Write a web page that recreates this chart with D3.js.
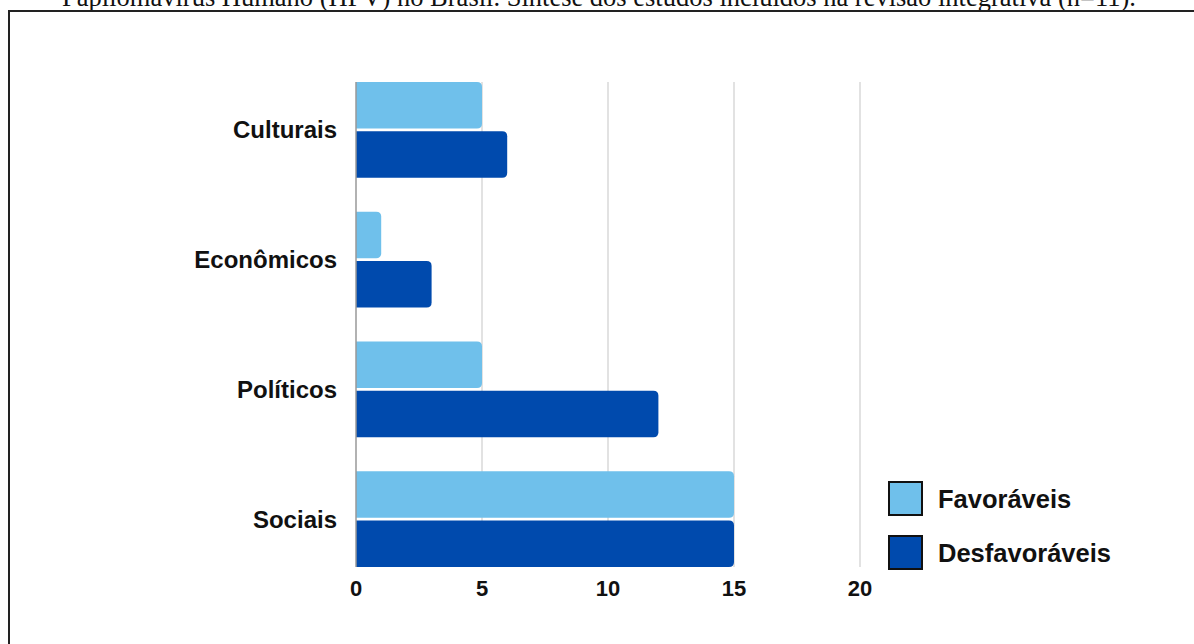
<!DOCTYPE html>
<html lang="pt">
<head>
<meta charset="UTF-8">
<script src="https://cdnjs.cloudflare.com/ajax/libs/d3/7.8.5/d3.min.js"></script>
<style>
  body { margin: 0; background: #fff; }
  svg { display: block; }
</style>
</head>
<body>
<script>
// dados
const categorias = ["Culturais", "Econômicos", "Políticos", "Sociais"];
const favoraveis = [5, 1, 5, 15];
const desfavoraveis = [6, 3, 12, 15];
const series = ["Favoráveis", "Desfavoráveis"];
const ticks = [0, 5, 10, 15, 20];
const titulo = "Papilomavírus Humano (HPV) no Brasil. Síntese dos estudos incluídos na revisão integrativa (n=11).";

const W = 1194, H = 644;
const cores = ["#6FC0EB", "#004AAD"];

const svg = d3.select("body").append("svg")
    .attr("width", W).attr("height", H);

// titulo (cortado no topo, como na imagem original)
svg.append("text")
    .attr("x", 599).attr("y", 6)
    .attr("text-anchor", "middle")
    .attr("font-family", "Liberation Serif, Times New Roman, serif")
    .attr("font-size", 26.5)
    .attr("fill", "#111")
    .text(titulo);

// moldura
svg.append("rect")
    .attr("x", 9).attr("y", 11)
    .attr("width", 1300).attr("height", 700)
    .attr("fill", "none")
    .attr("stroke", "#222").attr("stroke-width", 2);

const x = d3.scaleLinear().domain([0, 20]).range([356, 860]);
const y = d3.scaleBand().domain(categorias).range([65, 584]).paddingInner(0).paddingOuter(0);
const pad = 17;
const yInner = d3.scaleBand().domain(series).range([0, y.bandwidth() - 2 * pad]).paddingInner(0.06);

const yTopo = y(categorias[0]) + pad, yBase = y(categorias[3]) + y.bandwidth() - pad;

// grade
svg.selectAll(".grid").data(ticks.slice(1)).enter().append("line")
    .attr("class", "grid")
    .attr("x1", d => x(d)).attr("x2", d => x(d))
    .attr("y1", yTopo).attr("y2", yBase)
    .attr("stroke", "#d9d9d9").attr("stroke-width", 1.5);

// barras com cantos arredondados à direita
function barPath(x0, y0, w, h, r) {
  r = Math.min(r, w, h / 2);
  return `M${x0},${y0}H${x0 + w - r}Q${x0 + w},${y0} ${x0 + w},${y0 + r}` +
         `V${y0 + h - r}Q${x0 + w},${y0 + h} ${x0 + w - r},${y0 + h}H${x0}Z`;
}

const dados = [];
categorias.forEach((c, i) => {
  dados.push({ cat: c, s: series[0], v: favoraveis[i], cor: cores[0] });
  dados.push({ cat: c, s: series[1], v: desfavoraveis[i], cor: cores[1] });
});

svg.selectAll(".bar").data(dados).enter().append("path")
    .attr("class", "bar")
    .attr("d", d => barPath(x(0), y(d.cat) + pad + yInner(d.s), x(d.v) - x(0), yInner.bandwidth(), 5))
    .attr("fill", d => d.cor);

// eixo vertical
svg.append("line")
    .attr("x1", x(0)).attr("x2", x(0))
    .attr("y1", yTopo).attr("y2", yBase)
    .attr("stroke", "#999").attr("stroke-width", 1.5);

// rótulos das categorias
svg.selectAll(".cat").data(categorias).enter().append("text")
    .attr("x", 337)
    .attr("y", d => y(d) + y.bandwidth() / 2 + 8.5)
    .attr("text-anchor", "end")
    .attr("font-family", "Liberation Sans, Arial, sans-serif")
    .attr("font-weight", "bold").attr("font-size", 24)
    .attr("fill", "#111")
    .text(d => d);

// rótulos do eixo x
svg.selectAll(".tick").data(ticks).enter().append("text")
    .attr("x", d => x(d)).attr("y", 596)
    .attr("text-anchor", "middle")
    .attr("font-family", "Liberation Sans, Arial, sans-serif")
    .attr("font-weight", "bold").attr("font-size", 22)
    .attr("fill", "#111")
    .text(d => d);

// legenda
const leg = svg.selectAll(".leg").data(series).enter().append("g")
    .attr("transform", (d, i) => `translate(889,${482 + i * 54})`);
leg.append("rect")
    .attr("width", 33).attr("height", 33)
    .attr("fill", (d, i) => cores[i])
    .attr("stroke", "#111").attr("stroke-width", 2);
leg.append("text")
    .attr("x", 49).attr("y", 26)
    .attr("font-family", "Liberation Sans, Arial, sans-serif")
    .attr("font-weight", "bold").attr("font-size", 25.5)
    .attr("fill", "#111")
    .text(d => d);
</script>
</body>
</html>
